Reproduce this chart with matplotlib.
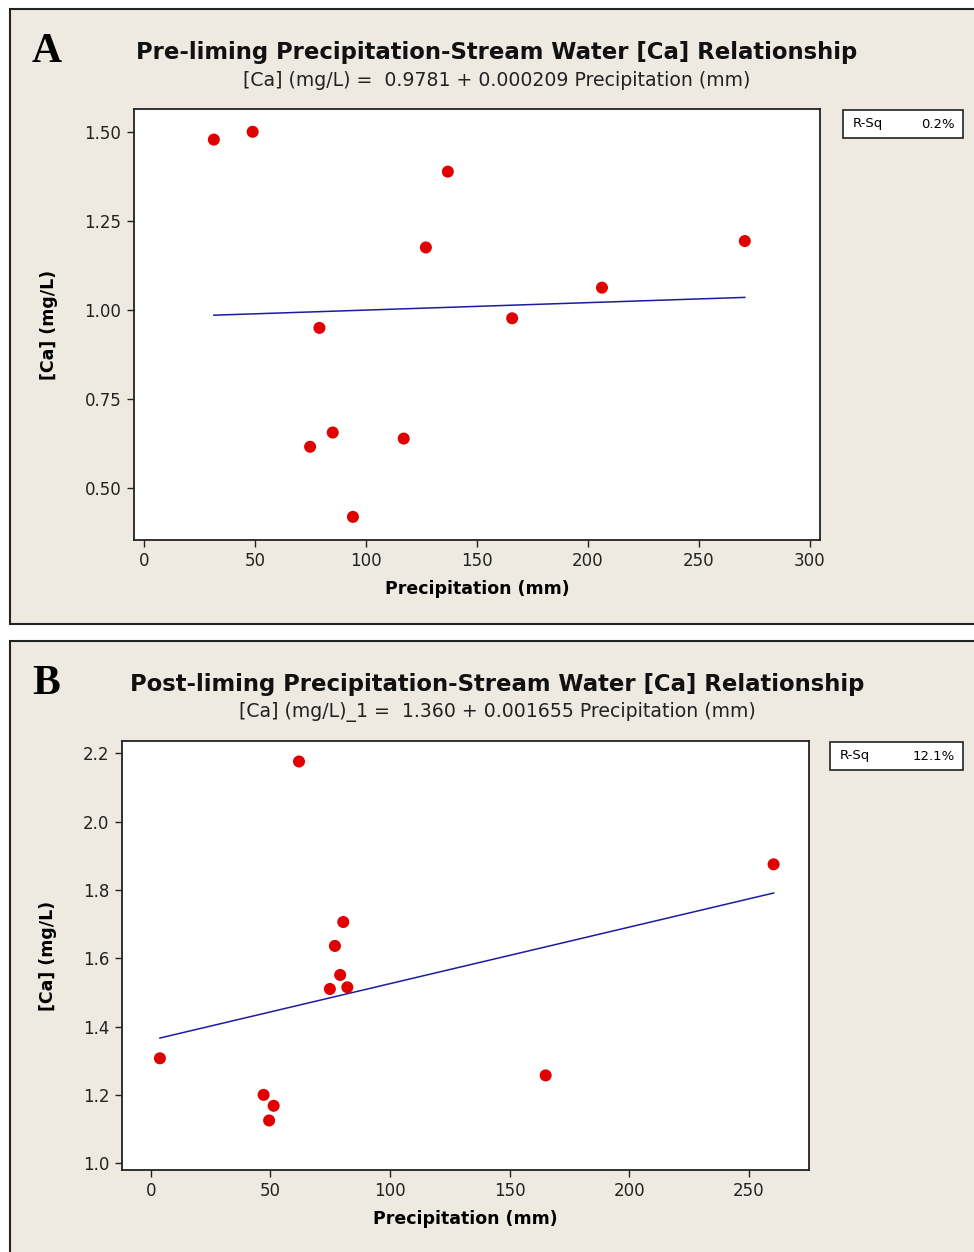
import matplotlib
matplotlib.use("Agg")
import matplotlib.pyplot as plt
from matplotlib.patches import Rectangle

# ---- data ----
pre_precip = [31.3, 48.8, 136.8, 126.9, 270.7, 206.3, 165.8, 78.9, 84.9, 74.7, 116.9, 94.0]
pre_ca = [1.478, 1.500, 1.388, 1.175, 1.193, 1.062, 0.976, 0.949, 0.655, 0.615, 0.638, 0.418]
pre_coef = (0.9781, 0.000209)
pre_rsq = "0.2%"

post_precip = [62.0, 260.4, 80.5, 77.0, 79.2, 74.9, 82.2, 3.85, 165.1, 47.2, 51.4, 49.5]
post_ca = [2.176, 1.875, 1.706, 1.636, 1.551, 1.510, 1.515, 1.307, 1.257, 1.200, 1.168, 1.125]
post_coef = (1.360, 0.001655)
post_rsq = "12.1%"

pre_yticks = [0.50, 0.75, 1.00, 1.25, 1.50]
pre_xticks = [0, 50, 100, 150, 200, 250, 300]
post_yticks = [1.0, 1.2, 1.4, 1.6, 1.8, 2.0, 2.2]
post_xticks = [0, 50, 100, 150, 200, 250]

# ---- layout helpers (pixel coords) ----
W, H = 974, 1252
BG = "#EEEAE1"
fig = plt.figure(figsize=(W / 100, H / 100), dpi=100)
fig.patch.set_facecolor("white")


def fx(x):
    return x / W


def fy(y):
    return 1 - y / H


def box(l, t, r, b):
    return [fx(l), fy(b), (r - l) / W, (b - t) / H]


def panel(top, bottom, letter, title, subtitle, ax_px, xs, ys, coef, rsq,
          rsq_px, xlim, ylim, xticks, yticks, yfmt):
    # beige background panel, kept behind the axes
    fig.patches.append(Rectangle((fx(10), fy(bottom)), (980 - 10) / W, (bottom - top) / H,
                                 transform=fig.transFigure, facecolor=BG,
                                 edgecolor="#222222", linewidth=1.5, zorder=-10))
    fig.text(fx(32), fy(top + 43), letter, family="Liberation Serif", weight="bold",
             fontsize=30, va="center", ha="left")
    fig.text(fx(497), fy(top + 44), title, weight="bold", fontsize=16.4,
             ha="center", va="center", color="#111111")
    fig.text(fx(497), fy(top + 71), subtitle, fontsize=13.6,
             ha="center", va="center", color="#222222")

    ax = fig.add_axes(box(*ax_px))
    ax.set_facecolor("white")
    ax.scatter(xs, ys, s=75, color="#E00000", edgecolors="none", zorder=3)
    x0, x1 = min(xs), max(xs)
    ax.plot([x0, x1], [coef[0] + coef[1] * x0, coef[0] + coef[1] * x1],
            color="#1C1CA0", linewidth=1.1, zorder=2)
    ax.set_xlim(*xlim)
    ax.set_ylim(*ylim)
    ax.set_xticks(xticks)
    ax.set_yticks(yticks)
    ax.set_yticklabels([yfmt.format(v) for v in yticks])
    ax.tick_params(direction="out", length=5, width=1, pad=4, labelsize=12,
                   colors="#222222")
    for s in ax.spines.values():
        s.set_linewidth(1.3)
        s.set_color("#222222")
    ax.set_xlabel("Precipitation (mm)", fontsize=12.5, weight="bold", labelpad=7)
    ax.set_ylabel("[Ca] (mg/L)", fontsize=12.5, weight="bold", labelpad=19)

    # R-Sq box
    l, t, r, b = rsq_px
    fig.patches.append(Rectangle((fx(l), fy(b)), (r - l) / W, (b - t) / H,
                                 transform=fig.transFigure, facecolor="white",
                                 edgecolor="#222222", linewidth=1.2, zorder=1))
    fig.text(fx(l + 10), fy((t + b) / 2), "R-Sq", fontsize=9.5, va="center", ha="left")
    fig.text(fx(r - 8), fy((t + b) / 2), rsq, fontsize=9.5, va="center", ha="right")
    return ax


# ---- panel A ----
panel(9, 624, "A", "Pre-liming Precipitation-Stream Water [Ca] Relationship",
      "[Ca] (mg/L) =  0.9781 + 0.000209 Precipitation (mm)",
      (134, 109, 820, 540), pre_precip, pre_ca, pre_coef, pre_rsq,
      (843, 110, 963, 138), (-4.7, 304.6), (0.353, 1.564),
      pre_xticks, pre_yticks, "{:.2f}")

# ---- panel B ----
panel(641, 1260, "B", "Post-liming Precipitation-Stream Water [Ca] Relationship",
      "[Ca] (mg/L)_1 =  1.360 + 0.001655 Precipitation (mm)",
      (122, 741, 809, 1170), post_precip, post_ca, post_coef, post_rsq,
      (830, 742, 963, 770), (-12.0, 275.2), (0.980, 2.236),
      post_xticks, post_yticks, "{:.1f}")

fig.savefig("out.png", dpi=100)
